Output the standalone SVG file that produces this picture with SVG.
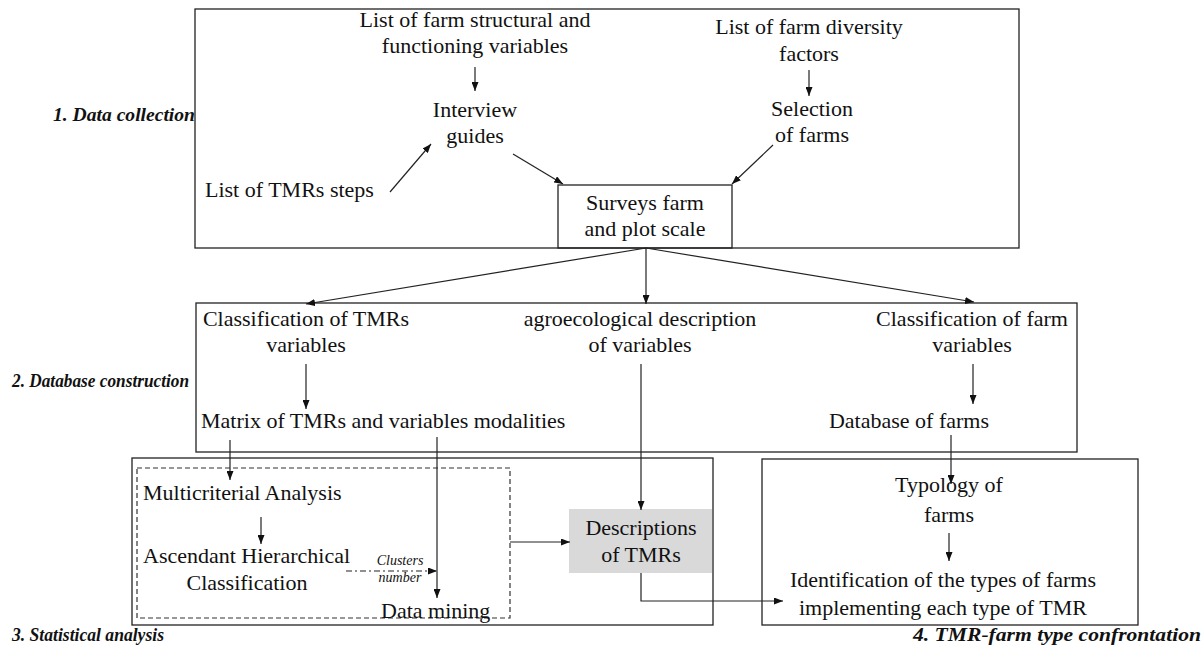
<svg xmlns="http://www.w3.org/2000/svg" width="1204" height="651" viewBox="0 0 1204 651">
<style>
text{font-family:"Liberation Serif","Times New Roman",Tinos,"DejaVu Serif",serif;fill:#111}
.t{font-size:22px;text-anchor:middle}
.ts{font-size:22px}
.lbl{font-size:18px;font-weight:bold;font-style:italic}
.sm{font-size:14px;font-style:italic;text-anchor:middle}
.box{fill:none;stroke:#222;stroke-width:1.3}
.c{fill:none;stroke:#222;stroke-width:1.2}
.a{marker-end:url(#ah)}
</style>
<defs>
<marker id="ah" markerUnits="userSpaceOnUse" markerWidth="9" markerHeight="7" refX="9" refY="3.5" orient="auto">
<path d="M0,0 L9,3.5 L0,7 z" fill="#111"/>
</marker>
</defs>
<rect width="1204" height="651" fill="#fff"/>
<g font-family="'Liberation Serif', 'Times New Roman', Tinos, 'DejaVu Serif', serif">
<g id="stage1">
<rect class="box" x="195" y="9" width="824" height="239"/>
<text class="lbl" x="53" y="121" textLength="142" lengthAdjust="spacingAndGlyphs">1. Data collection</text>
</g>
<g id="stage2">
<rect class="box" x="196" y="303" width="881" height="149"/>
<text class="lbl" x="12" y="387" textLength="177" lengthAdjust="spacingAndGlyphs">2. Database construction</text>
</g>
<g id="stage3">
<rect class="box" x="132" y="458" width="581" height="167"/>
<rect x="137" y="468" width="373" height="150" fill="none" stroke="#333" stroke-width="1.2" stroke-dasharray="5,3"/>
<text class="lbl" x="12" y="641" textLength="152" lengthAdjust="spacingAndGlyphs">3. Statistical analysis</text>
</g>
<g id="stage4">
<rect class="box" x="762" y="459" width="376" height="166"/>
<text class="lbl" x="913" y="641" textLength="288" lengthAdjust="spacingAndGlyphs">4. TMR-farm type confrontation</text>
</g>

<g id="n-structvars"><text class="t" x="475" y="27">List of farm structural and</text><text class="t" x="475" y="53">functioning variables</text></g>
<g id="n-interview"><text class="t" x="475" y="117">Interview</text><text class="t" x="475" y="143">guides</text></g>
<g id="n-tmrsteps"><text class="ts" x="205" y="197">List of TMRs steps</text></g>
<g id="n-diversity"><text class="t" x="809" y="34">List of farm diversity</text><text class="t" x="809" y="61">factors</text></g>
<g id="n-selection"><text class="t" x="812" y="116">Selection</text><text class="t" x="812" y="142">of farms</text></g>
<g id="n-surveys"><rect class="box" x="558" y="185" width="174" height="63" fill="#fff"/><text class="t" x="645" y="210">Surveys farm</text><text class="t" x="645" y="236">and plot scale</text></g>

<g id="n-classtmr"><text class="t" x="306" y="326">Classification of TMRs</text><text class="t" x="306" y="352">variables</text></g>
<g id="n-agro"><text class="t" x="640" y="326">agroecological description</text><text class="t" x="640" y="352">of variables</text></g>
<g id="n-classfarm"><text class="t" x="972" y="326">Classification of farm</text><text class="t" x="972" y="352">variables</text></g>
<g id="n-matrix"><text class="ts" x="201" y="428">Matrix of TMRs and variables modalities</text></g>
<g id="n-dbfarms"><text class="t" x="909" y="428">Database of farms</text></g>

<g id="n-mca"><text class="ts" x="143" y="500">Multicriterial Analysis</text></g>
<g id="n-ahc"><text class="ts" x="143" y="563">Ascendant Hierarchical</text><text class="t" x="247" y="590">Classification</text></g>
<g id="n-datamining"><text class="ts" x="381" y="618">Data mining</text></g>
<g id="n-desc"><rect x="569" y="509" width="143" height="64" fill="#d9d9d9"/><text class="t" x="641" y="535">Descriptions</text><text class="t" x="641" y="562">of TMRs</text></g>

<g id="n-typology"><text class="t" x="949" y="492">Typology of</text><text class="t" x="949" y="522">farms</text></g>
<g id="n-ident"><text class="t" x="943" y="587">Identification of the types of farms</text><text class="t" x="943" y="615">implementing each type of TMR</text></g>

<g id="connectors">
<line class="c a" x1="475" y1="67" x2="475" y2="91"/>
<line class="c a" x1="809" y1="70" x2="809" y2="96"/>
<line class="c a" x1="390" y1="192" x2="431" y2="144"/>
<line class="c a" x1="513" y1="154" x2="563" y2="184"/>
<line class="c a" x1="773" y1="145" x2="732" y2="184"/>
<line class="c a" x1="646" y1="248" x2="306" y2="304"/>
<line class="c a" x1="646" y1="248" x2="646" y2="304"/>
<line class="c a" x1="646" y1="248" x2="974" y2="302"/>
<line class="c a" x1="306" y1="364" x2="306" y2="409"/>
<line class="c a" x1="973" y1="364" x2="973" y2="404"/>
<line class="c a" x1="230" y1="440" x2="230" y2="480"/>
<line class="c a" x1="437" y1="437" x2="437" y2="598"/>
<line class="c a" x1="641" y1="364" x2="641" y2="510"/>
<line class="c a" x1="951" y1="435" x2="951" y2="484"/>
<line class="c a" x1="346" y1="571" x2="437" y2="571" stroke-dasharray="6,3,2,3"/>
<text class="sm" x="400" y="565">Clusters</text>
<text class="sm" x="400" y="582" font-size="13">number</text>
<line class="c a" x1="510" y1="542" x2="570" y2="542"/>
<line class="c a" x1="261" y1="517" x2="261" y2="544"/>
<line class="c a" x1="949" y1="533" x2="949" y2="561"/>
<polyline class="c a" points="641,573 641,601 783,601"/>
</g>
</g>
</svg>
